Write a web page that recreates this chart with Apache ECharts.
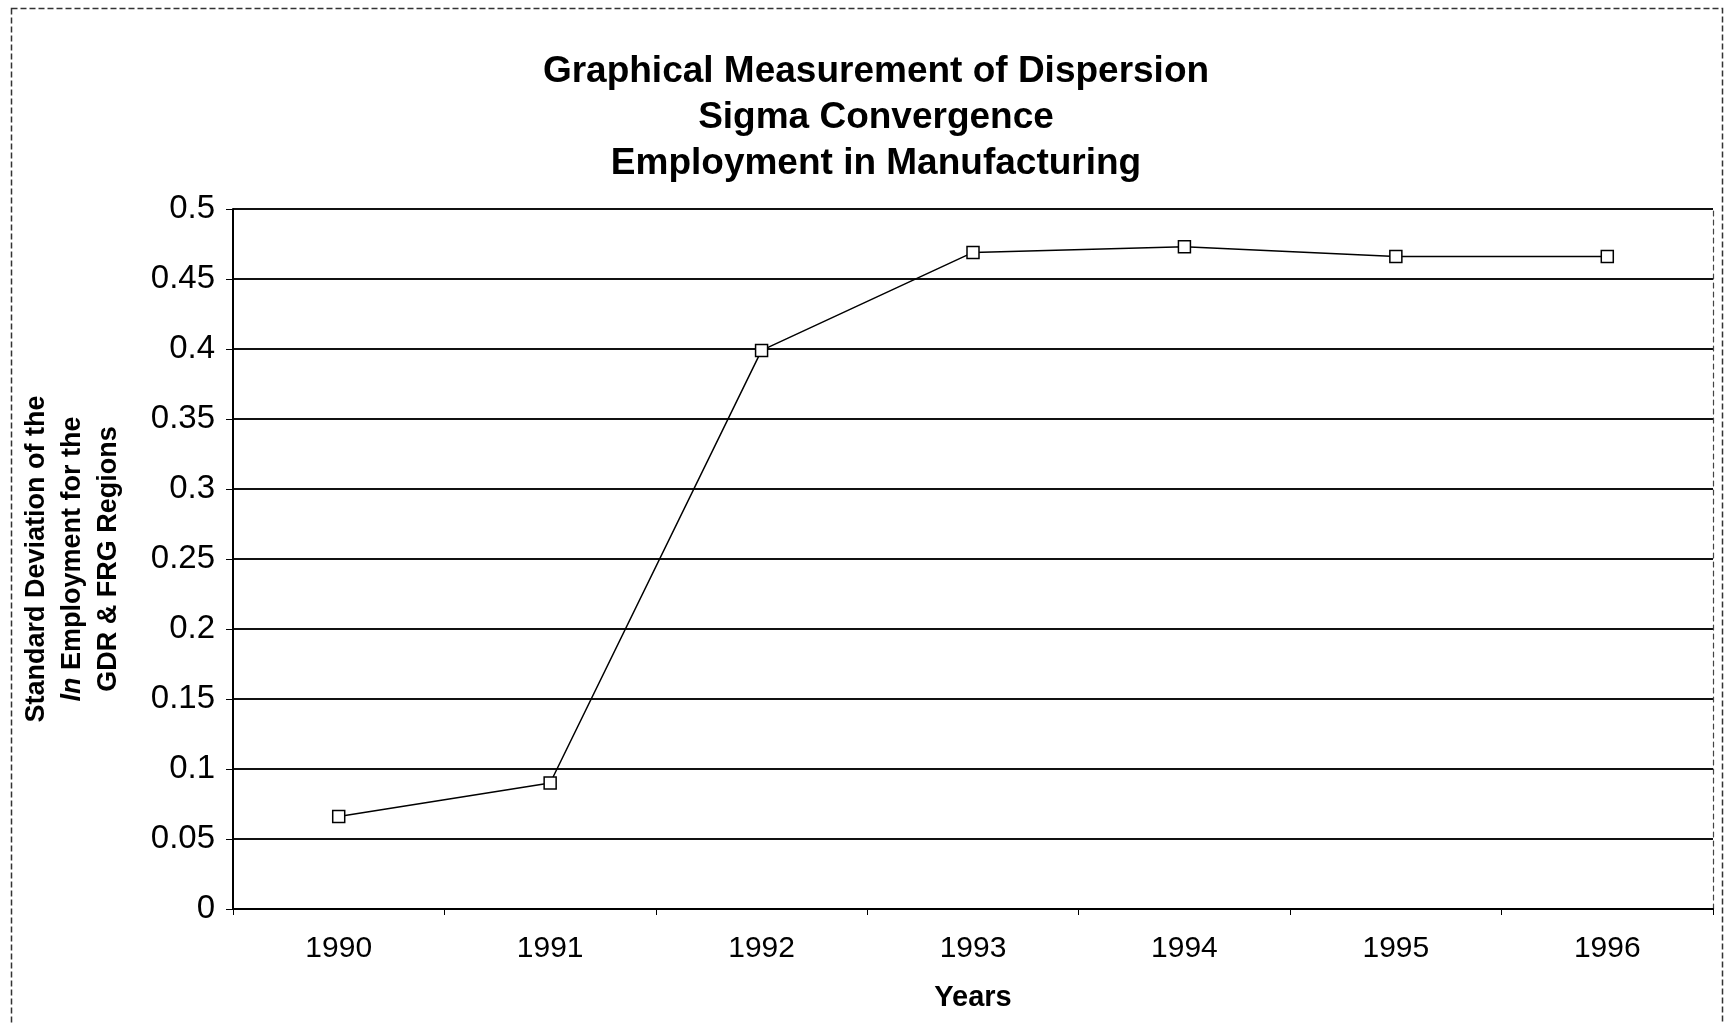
<!DOCTYPE html>
<html>
<head>
<meta charset="utf-8">
<script src="https://cdn.jsdelivr.net/npm/echarts@6/dist/echarts.min.js"></script>
<style>
html,body{margin:0;padding:0;background:#fff;}
#chart{width:1725px;height:1023px;}
</style>
</head>
<body>
<div id="chart"></div>
<script>
const years = ['1990','1991','1992','1993','1994','1995','1996'];
const sigma = [0.066, 0.090, 0.399, 0.469, 0.473, 0.466, 0.466];
const titleLines = ['Graphical Measurement of Dispersion','Sigma Convergence','Employment in Manufacturing'];
const yMin = 0, yMax = 0.5, yStep = 0.05;

const chart = echarts.init(document.getElementById('chart'));
const FONT = '"Liberation Sans", Arial, sans-serif';
chart.setOption({
  backgroundColor: '#fff',
  animation: false,
  graphic: [{
    type: 'rect', left: 9, top: 6,
    shape: { width: 1711, height: 1100 },
    style: { fill: 'none', stroke: '#333', lineWidth: 1.5, lineDash: [6, 3] },
    silent: true, z: -1
  }],
  title: {
    text: titleLines.join('\n'),
    left: 871, textAlign: 'center', top: 44,
    textStyle: { fontFamily: FONT, fontWeight: 'bold', fontSize: 37, lineHeight: 46, color: '#000' }
  },
  grid: { left: 233, right: 12, top: 209, bottom: 114 },
  xAxis: {
    type: 'category', data: years, boundaryGap: true,
    name: 'Years', nameLocation: 'middle', nameGap: 74,
    nameTextStyle: { fontFamily: FONT, fontWeight: 'bold', fontSize: 29, color: '#000' },
    axisLine: { lineStyle: { color: '#000', width: 2 } },
    axisTick: { show: true, length: 6, lineStyle: { color: '#000' } },
    axisLabel: { fontFamily: FONT, fontSize: 30, color: '#000', margin: 25 },
    splitLine: { show: false }
  },
  yAxis: [{
    type: 'value', min: yMin, max: yMax, interval: yStep,
    name: '{b|Standard Deviation of the}\n{i|ln}{b| Employment for the}\n{b|GDR & FRG Regions}',
    nameLocation: 'middle', nameRotate: 90, nameGap: 106,
    nameTextStyle: {
      fontFamily: FONT, fontWeight: 'bold', fontSize: 27, lineHeight: 36, color: '#000',
      rich: {
        b: { fontFamily: FONT, fontWeight: 'bold', fontSize: 27, lineHeight: 36, color: '#000' },
        i: { fontFamily: FONT, fontWeight: 'bold', fontStyle: 'italic', fontSize: 27, lineHeight: 36, color: '#000' }
      }
    },
    axisLine: { show: true, lineStyle: { color: '#000', width: 2 } },
    axisTick: { show: true, length: 7, lineStyle: { color: '#000' } },
    axisLabel: { fontFamily: FONT, fontSize: 33, color: '#000', margin: 18 },
    splitLine: { show: true, lineStyle: { color: '#111', width: 1.8 } }
  }, {
    type: 'value', min: yMin, max: yMax, interval: yStep, position: 'right',
    axisLine: { show: true, lineStyle: { color: '#444', width: 1.2, type: [5, 4] } },
    axisTick: { show: false }, axisLabel: { show: false }, splitLine: { show: false }
  }],
  series: [{
    type: 'line', data: sigma,
    symbol: 'rect', symbolSize: 12,
    lineStyle: { color: '#000', width: 1.5 },
    itemStyle: { color: '#fff', borderColor: '#000', borderWidth: 1.5 }
  }]
});
</script>
</body>
</html>
